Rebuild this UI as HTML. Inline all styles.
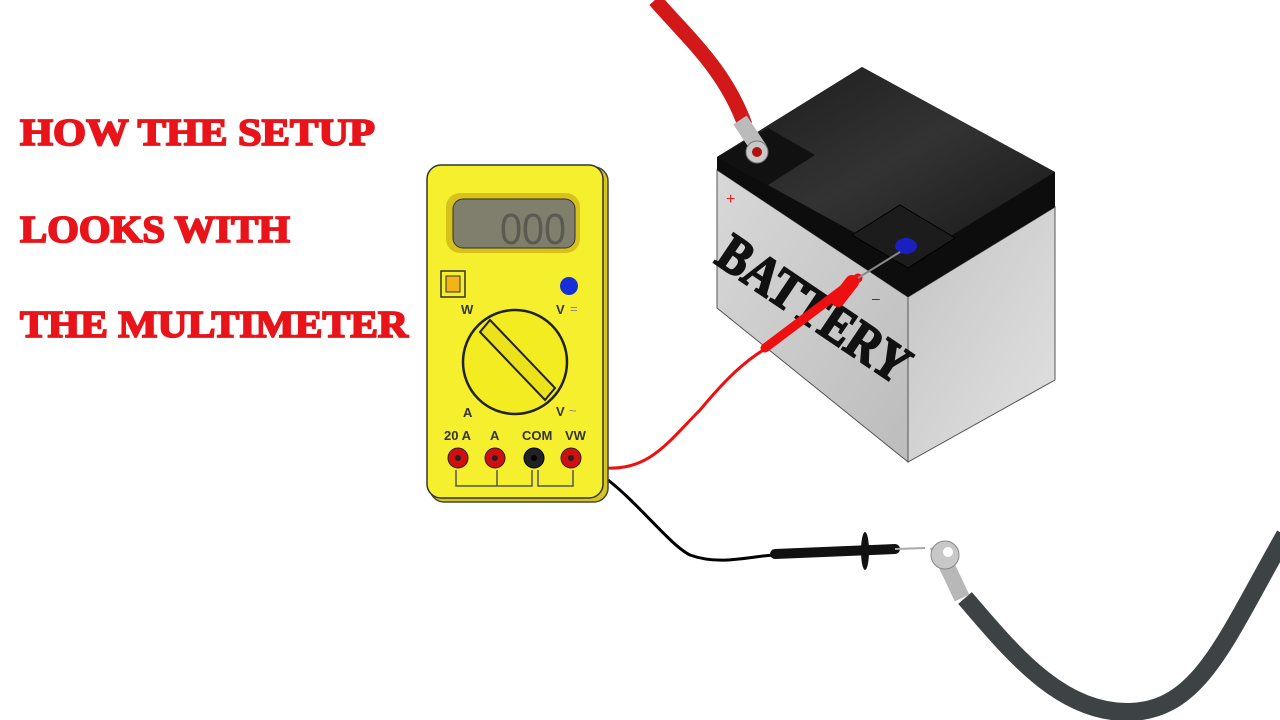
<!DOCTYPE html>
<html><head><meta charset="utf-8"><style>
html,body{margin:0;padding:0;background:#fff;width:1280px;height:720px;overflow:hidden}
svg{display:block}
</style></head><body>
<svg width="1280" height="720" viewBox="0 0 1280 720" xmlns="http://www.w3.org/2000/svg">
<defs>
<linearGradient id="lf" x1="0" y1="0" x2="1" y2="1"><stop offset="0" stop-color="#d8d8d8"/><stop offset="1" stop-color="#bcbcbc"/></linearGradient>
<linearGradient id="rf" x1="0" y1="0" x2="1" y2="1"><stop offset="0" stop-color="#c4c4c4"/><stop offset="1" stop-color="#e2e2e2"/></linearGradient>
<linearGradient id="tp" x1="0" y1="0" x2="1" y2="1"><stop offset="0" stop-color="#1a1a1a"/><stop offset="0.5" stop-color="#333"/><stop offset="1" stop-color="#151515"/></linearGradient>
</defs>
<g font-family="Liberation Serif, serif" font-weight="bold" fill="#e8141a" stroke="#e8141a" stroke-width="1.8">
<text x="20" y="145" font-size="38" textLength="355" lengthAdjust="spacingAndGlyphs">HOW THE SETUP</text>
<text x="20" y="242" font-size="38" textLength="270" lengthAdjust="spacingAndGlyphs">LOOKS WITH</text>
<text x="20" y="337" font-size="38" textLength="388" lengthAdjust="spacingAndGlyphs">THE MULTIMETER</text>
</g>
<!-- battery -->
<polygon points="717,170 908,297 908,462 717,308" fill="url(#lf)" stroke="#555" stroke-width="1"/>
<polygon points="908,297 1055,207 1055,380 908,462" fill="url(#rf)" stroke="#555" stroke-width="1"/>
<polygon points="717,157 862,67 1055,172 1055,207 908,297 717,170" fill="#0d0d0d"/>
<polygon points="717,157 862,67 1055,172 908,262" fill="url(#tp)"/>
<polygon points="717,157 768,128 815,155 768,185" fill="#111"/>
<polygon points="852,235 900,205 955,238 908,268" fill="#1c1c1c" stroke="#000"/>
<ellipse cx="906" cy="246" rx="11" ry="8" fill="#1a1fc0"/>
<text x="726" y="204" fill="#e02020" font-family="Liberation Sans,sans-serif" font-size="16">+</text>
<text x="872" y="303" fill="#2020c0" font-family="Liberation Sans,sans-serif" font-size="14">–</text>
<text x="0" y="0" transform="translate(713,262) rotate(34)" font-family="Liberation Serif,serif" font-weight="bold" font-size="54" fill="#111" stroke="#111" stroke-width="2" textLength="220" lengthAdjust="spacingAndGlyphs">BATTERY</text>
<!-- top red cable -->
<path d="M655,0 C690,40 725,70 745,125" stroke="#d21818" stroke-width="15" fill="none"/>
<path d="M740,120 L760,150" stroke="#bbb" stroke-width="16"/>
<circle cx="757" cy="152" r="11" fill="#c8c8c8" stroke="#777"/>
<circle cx="757" cy="152" r="5" fill="#b01010"/>
<!-- red lead -->
<path d="M608,468 C650,470 670,440 700,410 C725,380 745,360 770,346" stroke="#ee1010" stroke-width="3" fill="none"/>
<path d="M765,348 L858,278" stroke="#ee1010" stroke-width="9" stroke-linecap="round"/>
<path d="M838,300 L852,282" stroke="#ee1010" stroke-width="14" stroke-linecap="round"/>
<path d="M858,278 L900,252" stroke="#888" stroke-width="2"/>
<!-- black lead -->
<path d="M608,480 C640,505 670,545 690,555 C720,566 750,556 775,555" stroke="#000" stroke-width="3" fill="none"/>
<path d="M775,554 L895,549" stroke="#111" stroke-width="10" stroke-linecap="round"/>
<ellipse cx="865" cy="551" rx="4" ry="19" fill="#111"/>
<path d="M895,549 L925,548" stroke="#aaa" stroke-width="2"/>
<!-- grey cable -->
<path d="M965,598 C1010,650 1060,714 1130,712 C1200,710 1225,640 1285,535" stroke="#3d4244" stroke-width="18" fill="none"/>
<path d="M937,545 L962,598" stroke="#b8b8b8" stroke-width="16"/>
<circle cx="945" cy="555" r="14" fill="#c8c8c8" stroke="#888"/>
<circle cx="948" cy="552" r="5" fill="#fff"/>
<!-- multimeter -->
<rect x="430" y="167" width="178" height="335" rx="14" fill="#d6c51a" stroke="#444" stroke-width="1.5"/>
<rect x="427" y="165" width="176" height="333" rx="14" fill="#f5ef2e" stroke="#333" stroke-width="1.5"/>
<rect x="446" y="193" width="134" height="60" rx="14" fill="#d6c21a"/>
<rect x="453" y="199" width="122" height="49" rx="10" fill="#807e6c" stroke="#333"/>
<text x="500" y="244" font-family="Liberation Sans,sans-serif" font-size="44" fill="#5a5a50" textLength="66" lengthAdjust="spacingAndGlyphs">000</text>
<rect x="441" y="271" width="24" height="26" fill="none" stroke="#333" stroke-width="1.5"/>
<rect x="446" y="276" width="14" height="16" fill="#f3b415" stroke="#333"/>
<circle cx="569" cy="286" r="9" fill="#1630d8"/>
<g font-family="Liberation Sans,sans-serif" font-weight="bold" font-size="13" fill="#333">
<text x="461" y="314">W</text><text x="556" y="314">V</text><text x="570" y="313" font-weight="normal" fill="#888">=</text>
<text x="463" y="417">A</text><text x="556" y="416">V</text><text x="569" y="415" font-weight="normal" fill="#888">~</text>
<text x="444" y="440">20 A</text><text x="490" y="440">A</text><text x="522" y="440">COM</text><text x="565" y="440">VW</text>
</g>
<circle cx="515" cy="362" r="52" fill="#f2ec20" stroke="#222" stroke-width="2.5"/>
<path d="M480,332 L545,400 L555,388 L490,320 Z" fill="#ece21c" stroke="#222" stroke-width="2"/>
<g>
<circle cx="458" cy="458" r="10" fill="#d01010" stroke="#222"/><circle cx="458" cy="458" r="3" fill="#222"/>
<circle cx="495" cy="458" r="10" fill="#d01010" stroke="#222"/><circle cx="495" cy="458" r="3" fill="#222"/>
<circle cx="534" cy="458" r="10" fill="#222" stroke="#000"/><circle cx="534" cy="458" r="3" fill="#000"/>
<circle cx="571" cy="458" r="10" fill="#d01010" stroke="#222"/><circle cx="571" cy="458" r="3" fill="#222"/>
</g>
<path d="M456,470 V486 H497 V470 M497,486 H532 V470 M538,470 V486 H573 V470" fill="none" stroke="#555" stroke-width="1.5"/>
</svg>
</body></html>
